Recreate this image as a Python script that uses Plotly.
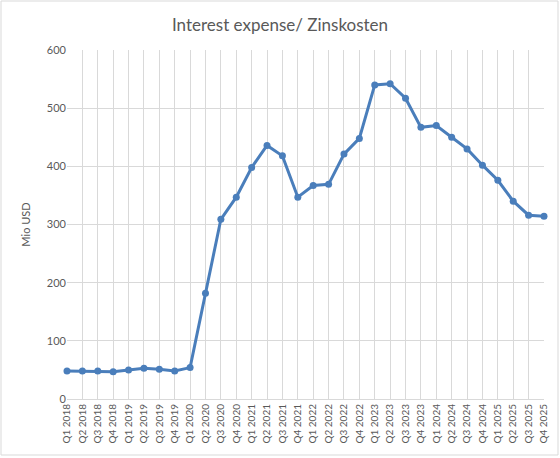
import plotly.graph_objects as go

quarters = [f"Q{q} {y}" for y in range(2018, 2026) for q in range(1, 5)]
interest_expense = [48, 48, 48, 47, 50, 53, 51, 48,
                    54, 182, 309, 347, 398, 436, 418, 347,
                    367, 369, 421, 448, 540, 542, 517, 467,
                    470, 450, 430, 402, 376, 340, 316, 314]

title_text = "Interest expense/ Zinskosten"
y_title = "Mio USD"

line_color = "#4A7EBB"
grid_color = "#D9D9D9"
text_color = "#595959"
font_family = "Lato, 'Open Sans', sans-serif"

fig = go.Figure()
fig.add_trace(go.Scatter(
    x=quarters, y=interest_expense, mode="lines+markers",
    line=dict(color=line_color, width=3),
    marker=dict(color=line_color, size=7),
    cliponaxis=False,
    showlegend=False,
))

fig.update_layout(
    width=560, height=458,
    margin=dict(l=67, r=16, t=50, b=59),
    paper_bgcolor="white", plot_bgcolor="white",
    font=dict(family=font_family, color=text_color, size=11),
    title=dict(text=title_text, x=0.5, xanchor="center", y=1 - 25 / 458, yanchor="middle",
               font=dict(size=17, color=text_color, family=font_family)),
    shapes=[dict(type="rect", xref="paper", yref="paper",
                 x0=-66 / 477, x1=1 + 14 / 477, y0=-56 / 349, y1=1 + 49 / 349,
                 line=dict(color="#D9D9D9", width=1), fillcolor="rgba(0,0,0,0)", layer="below")],
)

fig.update_xaxes(
    type="category", range=[0, len(quarters) - 1],
    showgrid=True, gridcolor=grid_color, gridwidth=1,
    showline=True, linecolor=grid_color, linewidth=1,
    tickangle=-90, tickfont=dict(size=10, color=text_color),
    ticks="", zeroline=False, fixedrange=True,
)
fig.update_yaxes(
    range=[0, 600], dtick=100,
    showgrid=True, gridcolor=grid_color, gridwidth=1,
    showline=False, zeroline=False, ticks="",
    tickfont=dict(size=11, color=text_color),
    title=dict(text=y_title, font=dict(size=11, color=text_color), standoff=14),
)

fig.write_html("out.html", config={"displayModeBar": False},
               post_script="document.body.style.margin='0';document.body.style.overflow='hidden';")
